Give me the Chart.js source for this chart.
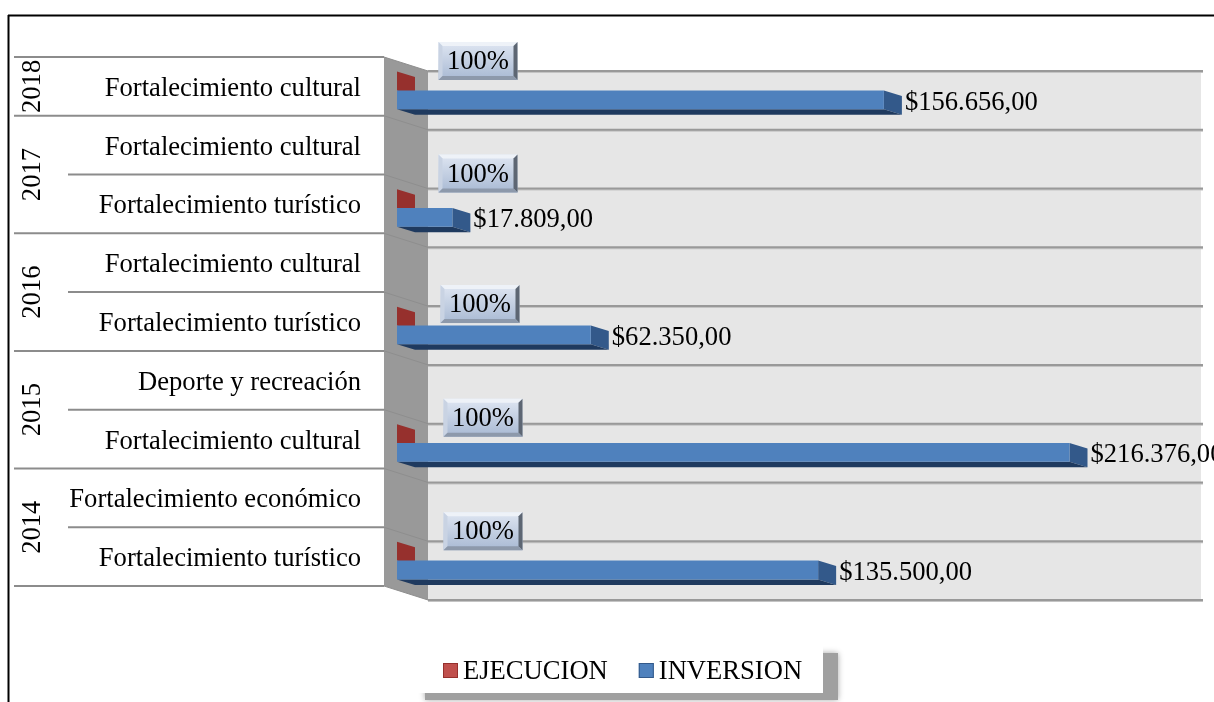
<!DOCTYPE html>
<html>
<head>
<meta charset="utf-8">
<title>Inversion y ejecucion</title>
<script src="https://cdn.jsdelivr.net/npm/chart.js@4"></script>
<style>
    html, body { margin: 0; padding: 0; background: #fff; overflow: hidden; }
    #wrap { position: relative; width: 1214px; height: 702px; }
    #chart { filter: blur(0.5px); }
</style>
</head>
<body>
<div id="wrap"><canvas id="chart" width="1214" height="702"></canvas></div>
<script>
// Datos
const categories = [
    'Fortalecimiento cultural',
    'Fortalecimiento cultural',
    'Fortalecimiento turístico',
    'Fortalecimiento cultural',
    'Fortalecimiento turístico',
    'Deporte y recreación',
    'Fortalecimiento cultural',
    'Fortalecimiento económico',
    'Fortalecimiento turístico'
];
const years = ['2018', '2017', '2016', '2015', '2014'];
const yearRows = [1, 2, 2, 2, 2];
const seriesNames = ['EJECUCION', 'INVERSION'];
const ejecucion = [1, null, 1, null, 1, null, 1, null, 1];
const inversion = [156656, null, 17809, null, 62350, null, 216376, null, 135500];
const inversionLabels = ['$156.656,00', '', '$17.809,00', '', '$62.350,00', '', '$216.376,00', '', '$135.500,00'];
const ejecucionLabels = ['100%', '', '100%', '', '100%', '', '100%', '', '100%'];
const axisMax = 250000;

const FONT_SIZE = 26.6;
const FONT = FONT_SIZE + 'px "Liberation Serif"';
// profundidad del efecto 3D
const WALL_DX = 44, WALL_DY = 14;
const PLANE_DX = 13, PLANE_DY = 4;
const BAR_DX = 18, BAR_DY = 5.5;
// las etiquetas 100% estan movidas a mano en el original: [dx, dy] desde la barra
const pctBoxNudge = [[81, -20], null, [81, -25], null, [83, -12], null, [86, -16], null, [86, -20]];

function poly(ctx, pts, fill) {
    ctx.beginPath();
    pts.forEach((p, i) => i ? ctx.lineTo(p[0], p[1]) : ctx.moveTo(p[0], p[1]));
    ctx.closePath();
    ctx.fillStyle = fill;
    ctx.fill();
}

function hline(ctx, x1, y1, x2, y2, color, width) {
    ctx.beginPath();
    ctx.moveTo(x1, y1);
    ctx.lineTo(x2, y2);
    ctx.strokeStyle = color;
    ctx.lineWidth = width;
    ctx.stroke();
}

// marco, paredes y separadores
const wallsPlugin = {
    id: 'walls',
    beforeDatasetsDraw(chart) {
        const { ctx, chartArea: a } = chart;
        const fx = a.left - PLANE_DX, fy = a.top - PLANE_DY;
        const fr = a.right - PLANE_DX - 4, fb = a.bottom - PLANE_DY;
        const band = (a.bottom - a.top) / categories.length;
        ctx.save();

        // borde negro de la imagen
        hline(ctx, 8, 15.5, chart.width, 15.5, '#000', 2);
        hline(ctx, 8.5, 15, 8.5, chart.height, '#000', 2);

        // pared de fondo y pared lateral
        ctx.fillStyle = '#e6e6e6';
        ctx.fillRect(fx + WALL_DX, fy + WALL_DY, fr - fx, fb - fy);
        poly(ctx, [[fx, fy], [fx + WALL_DX, fy + WALL_DY], [fx + WALL_DX, fb + WALL_DY], [fx, fb]], '#999999');

        // lineas de division
        for (let i = 0; i <= categories.length; i++) {
            const ly = fy + band * i;
            hline(ctx, fx, ly, fx + WALL_DX, ly + WALL_DY, '#8e8e8e', 1);
            hline(ctx, fx + WALL_DX, ly + WALL_DY + 1, fr + WALL_DX + 2, ly + WALL_DY + 1, '#c4c4c4', 2);
            hline(ctx, fx + WALL_DX, ly + WALL_DY, fr + WALL_DX + 2, ly + WALL_DY, '#999999', 2);
        }

        // separadores de categorias y de anios
        let row = 0;
        const yearEnds = new Set([0]);
        yearRows.forEach(n => { row += n; yearEnds.add(row); });
        for (let i = 0; i <= categories.length; i++) {
            const ly = fy + band * i;
            hline(ctx, yearEnds.has(i) ? 14 : 68, ly, fx, ly, '#8c8c8c', 2);
        }

        // anios en vertical
        ctx.fillStyle = '#000';
        ctx.font = FONT;
        ctx.textAlign = 'center';
        ctx.textBaseline = 'middle';
        row = 0;
        years.forEach((yr, i) => {
            const mid = fy + band * (row + yearRows[i] / 2);
            ctx.save();
            ctx.translate(33, mid);
            ctx.rotate(-Math.PI / 2);
            ctx.fillText(yr, 0, 0);
            ctx.restore();
            row += yearRows[i];
        });

        // caras laterales e inferiores de las barras
        chart.data.datasets.forEach((ds, d) => {
            chart.getDatasetMeta(d).data.forEach((bar, i) => {
                if (ds.data[i] == null) return;
                const x0 = bar.base, x1 = bar.x;
                const t = bar.y - bar.height / 2, b = bar.y + bar.height / 2;
                poly(ctx, [[x1, t], [x1 + BAR_DX, t + BAR_DY], [x1 + BAR_DX, b + BAR_DY], [x1, b]], ds.sideColor);
                poly(ctx, [[x0, b], [x1, b], [x1 + BAR_DX, b + BAR_DY], [x0 + BAR_DX, b + BAR_DY]], ds.underColor);
            });
        });
        ctx.restore();
    },
    afterDatasetsDraw(chart) {
        const { ctx } = chart;
        ctx.save();
        ctx.font = FONT;
        ctx.textBaseline = 'middle';

        // etiquetas de inversion
        ctx.textAlign = 'left';
        ctx.fillStyle = '#000';
        chart.getDatasetMeta(1).data.forEach((bar, i) => {
            if (inversionLabels[i]) ctx.fillText(inversionLabels[i], bar.x + BAR_DX + 3, bar.y + 3);
        });

        // etiquetas 100% con bisel
        chart.getDatasetMeta(0).data.forEach((bar, i) => {
            if (!ejecucionLabels[i]) return;
            const bw = 79, bh = 38;
            const cx = bar.x + pctBoxNudge[i][0], cy = bar.y + pctBoxNudge[i][1];
            drawBevel(ctx, cx - bw / 2, cy - bh / 2, bw, bh);
            ctx.fillStyle = '#000';
            ctx.textAlign = 'center';
            ctx.fillText(ejecucionLabels[i], cx, cy + 1);
        });

        // leyenda con sombra
        ctx.save();
        ctx.shadowColor = '#a8a8a8';
        ctx.shadowBlur = 6;
        ctx.fillStyle = '#a0a0a0';
        ctx.fillRect(425, 653, 413, 47);
        ctx.restore();
        ctx.fillStyle = '#fff';
        ctx.fillRect(416, 645, 407, 48);

        ctx.textAlign = 'left';
        let cx = 443;
        seriesNames.forEach((name, i) => {
            const ds = chart.data.datasets[i];
            ctx.fillStyle = ds.backgroundColor;
            ctx.fillRect(cx, 663, 15, 15);
            ctx.strokeStyle = ds.sideColor;
            ctx.lineWidth = 1;
            ctx.strokeRect(cx + 0.5, 663.5, 14, 14);
            ctx.fillStyle = '#000';
            ctx.fillText(name, cx + 20, 672);
            cx += 20 + ctx.measureText(name).width + 31;
        });
        ctx.restore();
    }
};

function drawBevel(ctx, x, y, w, h) {
    const e = 4;
    const face = ctx.createLinearGradient(0, y, 0, y + h);
    face.addColorStop(0, '#dfe6f2');
    face.addColorStop(1, '#a8b9d3');
    ctx.fillStyle = face;
    ctx.fillRect(x, y, w, h);
    poly(ctx, [[x, y], [x + w, y], [x + w - e, y + e], [x + e, y + e]], '#eef2f8');
    poly(ctx, [[x, y], [x + e, y + e], [x + e, y + h - e], [x, y + h]], '#c9d3e3');
    poly(ctx, [[x + w, y], [x + w, y + h], [x + w - e, y + h - e], [x + w - e, y + e]], '#5d6673');
    poly(ctx, [[x, y + h], [x + e, y + h - e], [x + w - e, y + h - e], [x + w, y + h]], '#8d99ab');
}

new Chart(document.getElementById('chart'), {
    type: 'bar',
    data: {
        labels: categories,
        datasets: [
            {
                label: seriesNames[0],
                data: ejecucion,
                backgroundColor: '#c0504d',
                sideColor: '#96302d',
                underColor: '#6e2220'
            },
            {
                label: seriesNames[1],
                data: inversion,
                backgroundColor: '#4f81bd',
                sideColor: '#33598a',
                underColor: '#1f3a5f'
            }
        ]
    },
    options: {
        indexAxis: 'y',
        responsive: false,
        animation: false,
        categoryPercentage: 0.64,
        barPercentage: 1,
        layout: { padding: { left: 0, top: 61, right: 40, bottom: 112 } },
        scales: {
            x: { display: false, min: 0, max: axisMax, grid: { display: false } },
            y: {
                afterFit(scale) { scale.width = 397; },
                grid: { display: false },
                border: { display: false },
                ticks: {
                    autoSkip: false,
                    color: '#000',
                    font: { family: 'Liberation Serif', size: FONT_SIZE },
                    padding: 28,
                    labelOffset: -1.5
                }
            }
        },
        plugins: {
            legend: { display: false },
            tooltip: { enabled: false }
        }
    },
    plugins: [wallsPlugin]
});
</script>
</body>
</html>
